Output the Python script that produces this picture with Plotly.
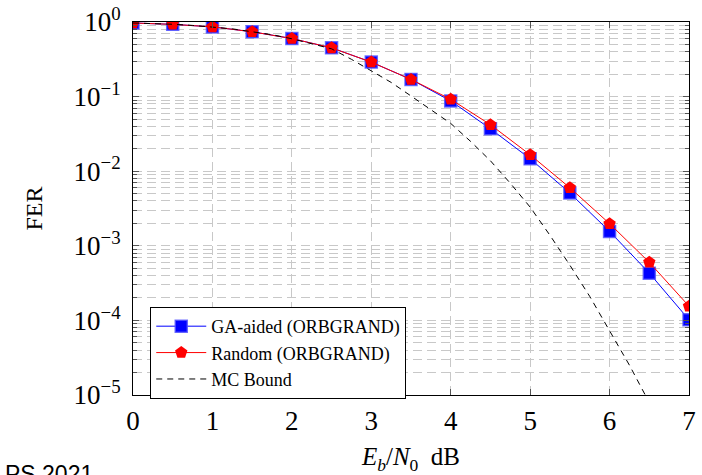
import plotly.graph_objects as go

# Eb/N0 points (dB)
ebn0 = [0, 0.5, 1, 1.5, 2, 2.5, 3, 3.5, 4, 4.5, 5, 5.5, 6, 6.5, 7]

# Frame error rates of the two ORBGRAND decoders
fer_ga = [0.97, 0.93, 0.86, 0.74, 0.60, 0.45, 0.29, 0.17, 0.0875, 0.037,
          0.0147, 0.0051, 0.00156, 0.00043, 0.000102]
fer_random = [0.97, 0.93, 0.86, 0.74, 0.60, 0.45, 0.29, 0.17, 0.092, 0.042,
              0.0166, 0.0060, 0.00198, 0.00060, 0.000155]

# Monte-Carlo bound
ebn0_mc = [0, 0.25, 0.5, 0.75, 1, 1.25, 1.5, 1.75, 2, 2.25, 2.5, 2.75, 3,
           3.25, 3.5, 3.75, 4, 4.25, 4.5, 4.75, 5, 5.25, 5.5, 5.75, 6, 6.25, 6.5]
fer_mc = [0.97, 0.955, 0.933, 0.90, 0.86, 0.81, 0.74, 0.676, 0.596, 0.513,
          0.437, 0.316, 0.224, 0.155, 0.102, 0.066, 0.0437, 0.0251, 0.0138,
          0.0069, 0.0033, 0.00138, 0.00055, 0.00021, 0.000074, 0.0000251,
          0.0000079]

# Axis labels
y_tickvals = [1e-5, 1e-4, 1e-3, 1e-2, 1e-1, 1]
y_ticktext = ["10<sup>−5</sup>", "10<sup>−4</sup>", "10<sup>−3</sup>",
              "10<sup>−2</sup>", "10<sup>−1</sup>", "10<sup>0</sup>"]
x_tickvals = [0, 1, 2, 3, 4, 5, 6, 7]

# minor log ticks at 2..9 within each decade
y_minor = [m * d for d in y_tickvals[:-1] for m in range(2, 10)]

serif = "Liberation Serif"
grid_col = "#c8c8c8"

fig = go.Figure()
fig.add_trace(go.Scatter(
    x=ebn0, y=fer_ga, mode="lines+markers", name="GA-aided (ORBGRAND)",
    line=dict(color="#0000ff", width=1),
    marker=dict(symbol="square", size=12, color="#0000ff",
                line=dict(color="rgba(80,80,255,0.8)", width=1.5)),
))
fig.add_trace(go.Scatter(
    x=ebn0, y=fer_random, mode="lines+markers", name="Random (ORBGRAND)",
    line=dict(color="#ff0000", width=1),
    marker=dict(symbol="pentagon", size=13, color="#ff0000",
                line=dict(width=0)),
))
fig.add_trace(go.Scatter(
    x=ebn0_mc, y=fer_mc, mode="lines", name="MC Bound",
    line=dict(color="black", width=1, dash="6px,5px"),
))

tick_font = dict(family=serif, size=27, color="black")

fig.update_xaxes(
    range=[0, 7], tickmode="array", tickvals=x_tickvals,
    ticktext=[str(v) for v in x_tickvals], tickfont=tick_font,
    ticklabelstandoff=2, automargin=False,
    showline=True, linecolor="black", linewidth=1, mirror="allticks",
    ticks="inside", ticklen=6, tickcolor="#555555", zeroline=False,
    showgrid=True, gridcolor=grid_col, griddash="9px,5px", gridwidth=1,
    title=dict(text="<i>E</i><sub><i>b</i></sub>/<i>N</i><sub>0</sub>  dB",
               font=dict(family=serif, size=25, color="black"), standoff=12),
)
fig.update_yaxes(
    type="log", range=[-5, 0], tickmode="array", tickvals=y_tickvals,
    ticktext=y_ticktext, tickfont=tick_font, ticklabelstandoff=6,
    automargin=False,
    showline=True, linecolor="black", linewidth=1, mirror="allticks",
    ticks="inside", ticklen=6, tickcolor="#555555", zeroline=False,
    showgrid=True, gridcolor=grid_col, griddash="9px,5px", gridwidth=1,
    minor=dict(tickmode="array", tickvals=y_minor, ticks="inside",
               ticklen=4, tickcolor="#555555",
               showgrid=True, gridcolor=grid_col, griddash="9px,5px",
               gridwidth=1),
    title=dict(text="FER", font=dict(family=serif, size=24, color="black"),
               standoff=24),
)

fig.update_layout(
    width=702, height=475,
    margin=dict(l=133, r=13, t=22, b=80, autoexpand=False),
    paper_bgcolor="white", plot_bgcolor="white",
    font=dict(family=serif, color="black"),
    legend=dict(
        x=0.031, y=0.236, xanchor="left", yanchor="top",
        bgcolor="white", bordercolor="black", borderwidth=1,
        font=dict(family=serif, size=18, color="black"),
        tracegroupgap=0, itemwidth=50,
    ),
    showlegend=True,
)

fig.add_annotation(
    text="PS 2021", xref="paper", yref="paper",
    x=-0.068, y=-0.171, xanchor="right", yanchor="top",
    showarrow=False,
    font=dict(family="Liberation Sans", size=23, color="black"),
)

fig.write_html("out.html")
